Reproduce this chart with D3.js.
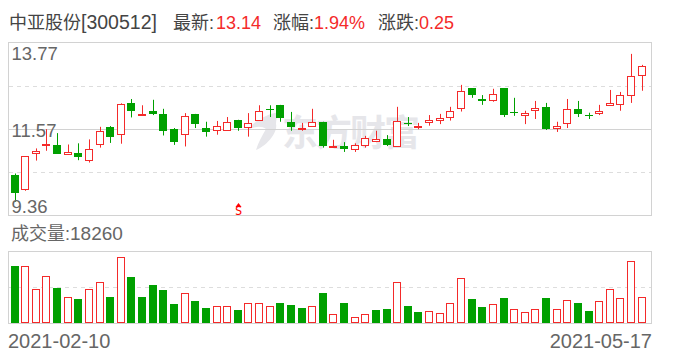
<!DOCTYPE html>
<html>
<head>
<meta charset="utf-8">
<script src="https://cdn.jsdelivr.net/npm/d3@7/dist/d3.min.js"></script>
<style>
  html, body { margin: 0; padding: 0; background: #fff; }
  svg { display: block; }
  text { font-family: "Liberation Sans", Arial, "Noto Sans CJK SC", sans-serif; }
</style>
</head>
<body>
<script>
const width = 688;
const height = 360;

const dates = [
  '2021-02-10', '2021-02-18', '2021-02-19', '2021-02-22', '2021-02-23', '2021-02-24', '2021-02-25', '2021-02-26',
  '2021-03-01', '2021-03-02', '2021-03-03', '2021-03-04', '2021-03-05', '2021-03-08', '2021-03-09', '2021-03-10',
  '2021-03-11', '2021-03-12', '2021-03-15', '2021-03-16', '2021-03-17', '2021-03-18', '2021-03-19', '2021-03-22',
  '2021-03-23', '2021-03-24', '2021-03-25', '2021-03-26', '2021-03-29', '2021-03-30', '2021-03-31', '2021-04-01',
  '2021-04-02', '2021-04-06', '2021-04-07', '2021-04-08', '2021-04-09', '2021-04-12', '2021-04-13', '2021-04-14',
  '2021-04-15', '2021-04-16', '2021-04-19', '2021-04-20', '2021-04-21', '2021-04-22', '2021-04-23', '2021-04-26',
  '2021-04-27', '2021-04-28', '2021-04-29', '2021-04-30', '2021-05-06', '2021-05-07', '2021-05-10', '2021-05-11',
  '2021-05-12', '2021-05-13', '2021-05-14', '2021-05-17'
];
const open = [
  10.38, 10.02, 10.94, 11.16, 11.16, 10.91, 10.95, 10.76, 11.17, 11.62, 11.43, 12.23, 11.91, 12.03, 11.95,
  11.57, 11.43, 11.95, 11.59, 11.53, 11.53, 11.80, 11.61, 11.78, 12.08, 12.18, 11.75, 11.57, 11.63, 11.75,
  11.10, 11.13, 11.04, 11.14, 11.26, 11.31, 11.12, 11.71, 11.63, 11.75, 11.81, 11.86, 12.09, 12.61, 12.33,
  12.29, 12.61, 12.00, 11.93, 12.04, 12.13, 11.60, 11.71, 12.08, 11.93, 11.97, 12.17, 12.20, 12.43, 12.94
];
const close = [
  9.92, 10.87, 11.00, 11.18, 10.93, 10.97, 10.86, 11.05, 11.51, 11.37, 12.20, 12.03, 11.94, 11.95, 11.52,
  11.24, 11.89, 11.70, 11.50, 11.63, 11.74, 11.59, 11.71, 12.02, 12.07, 11.86, 11.62, 11.58, 11.74, 11.13,
  11.13, 11.06, 11.15, 11.33, 11.30, 11.16, 11.76, 11.68, 11.64, 11.80, 11.85, 12.02, 12.53, 12.42, 12.29,
  12.45, 11.92, 11.98, 11.97, 12.09, 11.57, 11.64, 12.07, 11.95, 11.91, 12.02, 12.22, 12.43, 12.91, 13.17
];
const high = [
  10.43, 10.87, 11.07, 11.56, 11.46, 11.17, 11.20, 11.30, 11.62, 11.64, 12.22, 12.33, 12.17, 12.31, 12.08,
  11.59, 11.97, 11.95, 11.75, 11.77, 11.87, 11.80, 11.97, 12.17, 12.17, 12.18, 12.00, 11.72, 12.08, 11.75,
  11.29, 11.23, 11.20, 11.39, 11.52, 11.41, 12.13, 11.87, 11.72, 11.92, 11.95, 12.13, 12.69, 12.61, 12.43,
  12.59, 12.61, 12.36, 12.03, 12.28, 12.23, 11.75, 12.33, 12.28, 11.98, 12.18, 12.56, 12.51, 13.48, 13.20
];
const low = [
  9.71, 9.99, 10.76, 11.01, 10.93, 10.91, 10.77, 10.71, 11.09, 11.21, 11.19, 11.86, 11.91, 11.92, 11.40,
  11.16, 11.12, 11.59, 11.37, 11.42, 11.53, 11.52, 11.37, 11.78, 11.87, 11.75, 11.52, 11.52, 11.63, 11.09,
  11.10, 10.98, 10.98, 11.09, 11.23, 11.13, 11.11, 11.64, 11.56, 11.65, 11.69, 11.78, 12.01, 12.36, 12.18,
  12.26, 11.87, 11.90, 11.69, 11.82, 11.54, 11.49, 11.59, 11.87, 11.82, 11.92, 12.17, 12.03, 12.23, 12.54
];
const volume = [
  38770, 39220, 23670, 32460, 23890, 18260, 16450, 23670, 28400, 17810, 45300, 31330, 17810, 25920, 22540,
  13070, 20960, 15100, 10370, 12170, 12170, 9020, 14200, 14200, 11500, 13750, 12400, 10370, 12170, 20510,
  6760, 13750, 4730, 6760, 9020, 9690, 28400, 11720, 7660, 8790, 7440, 14200, 31110, 16450, 11040,
  13520, 17130, 10140, 8110, 10140, 17130, 10140, 16230, 13750, 8340, 15550, 23670, 17580, 42600, 18260
];
// volume bars follow their own up/down colour, it differs from the candle on a few days
const volumeUp = [
  0, 1, 1, 1, 0, 1, 0, 1, 1, 0, 1, 0, 0, 0, 0,
  0, 1, 0, 0, 1, 1, 0, 1, 1, 1, 0, 0, 0, 1, 0,
  1, 0, 1, 1, 0, 0, 1, 0, 0, 1, 1, 1, 1, 0, 0,
  1, 0, 1, 1, 1, 0, 1, 1, 0, 0, 1, 1, 1, 1, 1
];
const priceTicks = [13.77, 11.57, 9.36];
const priceGrid = [12.67, 11.57, 10.46];
const sellMark = ['2021-03-18'];
const volumeMax = 48700;

const red = '#f42a2a';
const green = '#00a000';
const border = '#d2d2d2';
const dashed = '#dddddd';

const svg = d3.select('body')
  .append('svg')
  .attr('width', width)
  .attr('height', height);

const xScale = d3.scalePoint()
  .domain(dates)
  .range([15.04, 642.2]);
const xPos = d => Math.floor(xScale(d));

const yScale = d3.scaleLinear()
  .domain([9.36, 13.77])
  .range([215.5, 42.5]);
const volScale = d3.scaleLinear()
  .domain([0, volumeMax])
  .range([323.5, 251.5]);

// header
const header = svg.append('text')
  .attr('y', 29)
  .style('font-size', '18px');
const parts = [
  { x: 9, t: '中亚股份', c: '#444' },
  { x: 81, t: '[300512]', c: '#444', s: '19.5px' },
  { x: 173, t: '最新:', c: '#444' },
  { x: 216, t: '13.14', c: red },
  { x: 273, t: '涨幅:', c: '#444' },
  { x: 314, t: '1.94%', c: red },
  { x: 378, t: '涨跌:', c: '#444' },
  { x: 419, t: '0.25', c: red },
];
header.selectAll('tspan')
  .data(parts)
  .enter()
  .append('tspan')
  .attr('x', d => d.x)
  .attr('fill', d => d.c)
  .style('font-size', d => d.s || null)
  .text(d => d.t);

// watermark sits under everything
const mark = svg.append('g').attr('fill', '#e6e6ea');
mark.append('path')
  .attr('d', 'M279 112 C268 114 254 120 248 130 C255 126 262 126 266 129 C262 136 258 143 256 150 C267 146 278 132 276 124 C276 120 277 116 279 112 Z');
mark.append('text')
  .attr('x', 282)
  .attr('y', 146)
  .attr('textLength', 138)
  .style('font-size', '36px')
  .style('font-weight', 'bold')
  .style('font-family', '"Noto Sans CJK SC", sans-serif')
  .text('东方财富');

// panel frames
svg.append('rect')
  .attr('x', 8.5).attr('y', 42.5)
  .attr('width', 643).attr('height', 173)
  .attr('fill', 'none').attr('stroke', border);
svg.append('rect')
  .attr('x', 8.5).attr('y', 251.5)
  .attr('width', 643).attr('height', 72)
  .attr('fill', 'none').attr('stroke', border);

// price grid
svg.selectAll('line.price-grid')
  .data(priceGrid)
  .enter()
  .append('line')
  .attr('class', 'price-grid')
  .attr('x1', 9).attr('x2', 651)
  .attr('y1', d => Math.round(yScale(d)) + 0.5)
  .attr('y2', d => Math.round(yScale(d)) + 0.5)
  .attr('stroke', (d, i) => i === 1 ? border : dashed)
  .attr('stroke-dasharray', (d, i) => i === 1 ? null : '4,4');

svg.append('line')
  .attr('x1', 9).attr('x2', 651)
  .attr('y1', 287.5).attr('y2', 287.5)
  .attr('stroke', dashed)
  .attr('stroke-dasharray', '4,4');

// candles
const candles = dates.map((d, i) => ({
  date: d, open: open[i], close: close[i], high: high[i], low: low[i],
  up: close[i] >= open[i],
}));

const candle_g = svg.append('g').attr('class', 'candles');
const candle = candle_g.selectAll('g')
  .data(candles)
  .enter()
  .append('g');

candle.append('line')
  .attr('x1', d => xPos(d.date) + 0.5)
  .attr('x2', d => xPos(d.date) + 0.5)
  .attr('y1', d => yScale(d.high))
  .attr('y2', d => yScale(d.low))
  .attr('stroke', d => d.up ? red : green);

candle.append('rect')
  .attr('x', d => d.up ? xPos(d.date) - 3.5 : xPos(d.date) - 4)
  .attr('width', d => d.up ? 7 : 8)
  .attr('y', d => {
    const top = yScale(Math.max(d.open, d.close));
    return d.up ? Math.round(top) + 0.5 : Math.round(top);
  })
  .attr('height', d => Math.max(1, Math.round(Math.abs(yScale(d.open) - yScale(d.close)))))
  .attr('fill', d => d.up ? '#fff' : green)
  .attr('stroke', d => d.up ? red : 'none');

// sell flag
const flag = svg.selectAll('g.flag')
  .data(sellMark)
  .enter()
  .append('g')
  .attr('class', 'flag')
  .attr('transform', d => 'translate(' + (xPos(d) + 0.5) + ',0)');
flag.append('path')
  .attr('d', 'M0 203 L3 207 L-3 207 Z')
  .attr('fill', '#f00');
flag.append('text')
  .attr('y', 215)
  .attr('text-anchor', 'middle')
  .attr('fill', '#f00')
  .style('font-size', '12px')
  .style('font-family', '"DejaVu Sans Mono", monospace')
  .text('S');

// volume bars
const bars = dates.map((d, i) => ({ date: d, value: volume[i], up: volumeUp[i] === 1 }));
svg.append('g')
  .attr('class', 'volume')
  .selectAll('rect')
  .data(bars)
  .enter()
  .append('rect')
  .attr('x', d => d.up ? xPos(d.date) - 3.5 : xPos(d.date) - 4)
  .attr('width', d => d.up ? 7 : 8)
  .attr('y', d => d.up ? Math.round(volScale(d.value)) + 0.5 : Math.round(volScale(d.value)))
  .attr('height', d => d.up ? 322.5 - Math.round(volScale(d.value)) - 0.5 : 323 - Math.round(volScale(d.value)))
  .attr('fill', d => d.up ? '#fff' : green)
  .attr('stroke', d => d.up ? red : 'none');

// price labels, on top of the candles
svg.selectAll('text.price')
  .data(priceTicks)
  .enter()
  .append('text')
  .attr('class', 'price')
  .attr('x', 11.5)
  .attr('y', (d, i) => [60, 137, 213][i])
  .attr('fill', '#666')
  .style('font-size', '18.5px')
  .text(d => d.toFixed(2));

const volLabel = svg.append('text')
  .attr('y', 240)
  .attr('fill', '#666')
  .style('font-size', '18px');
volLabel.append('tspan').attr('x', 11).text('成交量:');
volLabel.append('tspan').attr('x', 70).style('font-size', '19px').text(volume[volume.length - 1]);

svg.append('text')
  .attr('x', 8).attr('y', 348)
  .attr('fill', '#666')
  .style('font-size', '20px')
  .text(dates[0]);
svg.append('text')
  .attr('x', 652).attr('y', 348)
  .attr('text-anchor', 'end')
  .attr('fill', '#666')
  .style('font-size', '20px')
  .text(dates[dates.length - 1]);
</script>
</body>
</html>
